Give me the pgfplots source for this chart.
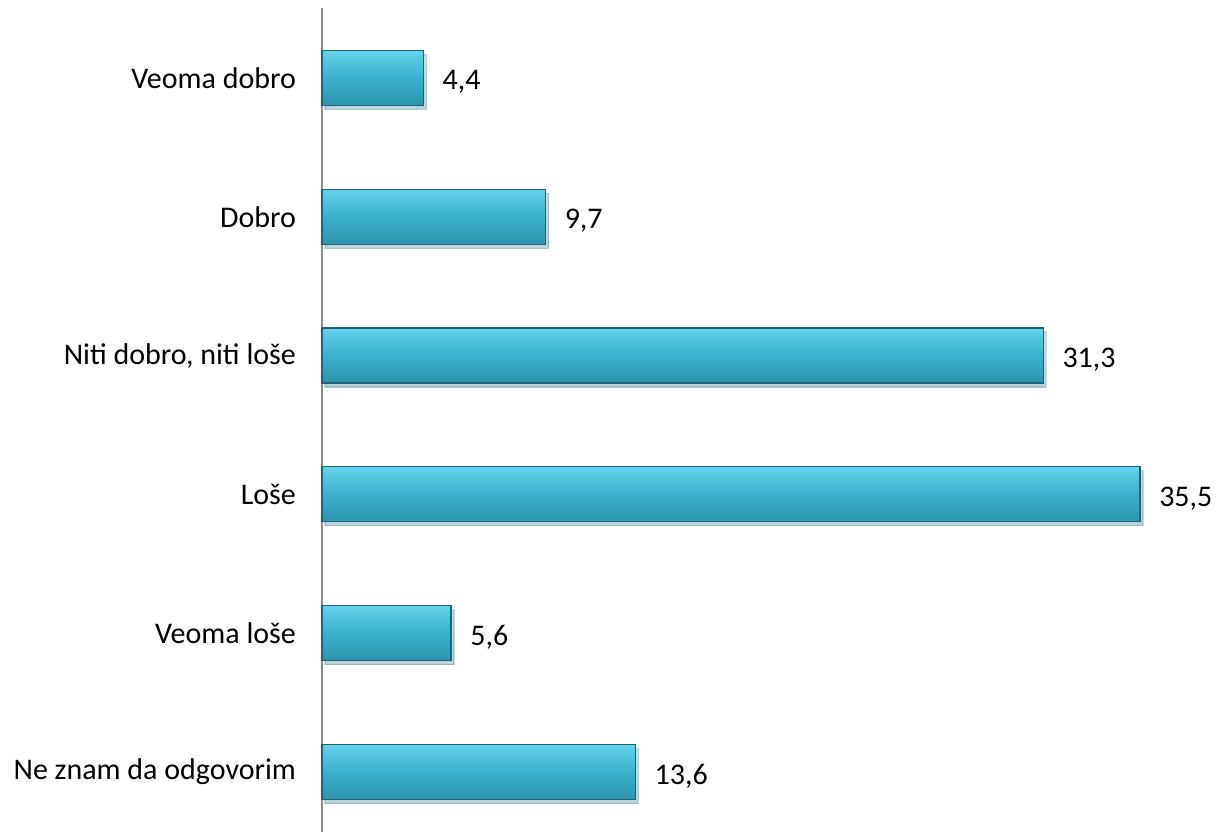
\documentclass[border=0pt]{standalone}
\usepackage{fontspec}
\setmainfont{Carlito}
\usepackage{pgfplots}
\pgfplotsset{compat=1.18}
\usetikzlibrary{shadows}
\definecolor{barmid}{RGB}{58,176,206}
\definecolor{bartop}{RGB}{100,210,235}
\definecolor{barbot}{RGB}{44,148,172}
\definecolor{baredge}{RGB}{30,100,118}
\begin{document}
\begin{tikzpicture}
\path[use as bounding box] (-161pt,-3pt) rectangle (448pt,416pt);
\begin{axis}[
  at={(0,0)}, anchor=south west,
  scale only axis,
  width=409pt, height=412pt,
  xbar, bar shift=0pt,
  xmin=0, xmax=35.5,
  ymin=-0.432, ymax=5.504,
  bar width=27.5pt,
  hide x axis,
  axis y line*=left,
  y axis line style={draw=gray!90, line width=1pt, -},
  ytick={0,1,2,3,4,5},
  yticklabels={Ne znam da odgovorim, Veoma loše, Loše, {Niti dobro, niti loše}, Dobro, Veoma dobro},
  major tick length=0pt,
  yticklabel style={font=\fontsize{15pt}{17pt}\selectfont, xshift=-9.5pt},
  clip=false,
  nodes near coords,
  every node near coord/.append style={font=\fontsize{15pt}{17pt}\selectfont, anchor=west, xshift=6pt, yshift=-2pt},
  /pgf/number format/.cd, use comma, fixed, fixed zerofill, precision=1, assume math mode=true,
]
\pgfplotsset{barsty/.style={draw=baredge, line width=0.6pt, top color=bartop, bottom color=barbot, middle color=barmid,
  drop shadow={shadow xshift=1.5pt, shadow yshift=-2pt, opacity=0.22}}}
\addplot[barsty] coordinates {(13.6,0)};
\addplot[barsty] coordinates {(5.6,1)};
\addplot[barsty] coordinates {(35.5,2)};
\addplot[barsty] coordinates {(31.3,3)};
\addplot[barsty] coordinates {(9.7,4)};
\addplot[barsty] coordinates {(4.4,5)};
\end{axis}
\end{tikzpicture}
\end{document}
